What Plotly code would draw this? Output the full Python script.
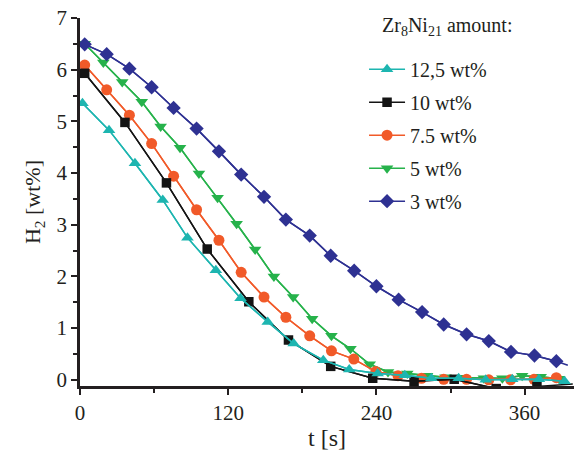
import plotly.graph_objects as go

# ---- data (t in s, H2 in wt%) ----
t_125 = [2, 23.5, 44.5, 67, 87, 110, 130, 152, 173, 197, 218, 241, 263, 284.5, 306.6, 328.5, 350, 371.6, 392.4]
h_125 = [5.35, 4.83, 4.19, 3.48, 2.75, 2.12, 1.58, 1.12, 0.70, 0.38, 0.20, 0.12, 0.09, 0.03, 0.03, 0.0, 0.01, 0.01, -0.03]

t_10 = [3.8, 36.4, 70, 103, 136.7, 168.8, 203, 237, 270.5, 303, 337, 370, 399]
h_10 = [5.93, 4.98, 3.81, 2.53, 1.51, 0.77, 0.26, 0.03, -0.03, 0.01, -0.17, -0.13, -0.08]

t_75 = [3.8, 21.6, 40, 58, 75.8, 94.4, 112.5, 130.5, 149, 166.7, 186, 203.6, 221.7, 239.5, 257.5, 276.5, 294.5, 313, 331, 348.7, 367.6, 385.7]
h_75 = [6.09, 5.61, 5.12, 4.57, 3.94, 3.29, 2.70, 2.08, 1.60, 1.21, 0.85, 0.56, 0.40, 0.16, 0.08, 0.03, 0.01, 0.01, 0.0, 0.0, 0.01, 0.04]

t_5 = [3.8, 18.9, 34.2, 50, 65.3, 81, 96.3, 111.4, 126.8, 141.8, 157, 172.6, 188, 203.6, 219, 234.6, 249.4, 265, 281, 296, 311, 327, 342, 358, 373, 388]
h_5 = [6.50, 6.14, 5.76, 5.38, 4.90, 4.49, 3.99, 3.52, 3.02, 2.52, 2.00, 1.60, 1.18, 0.85, 0.60, 0.30, 0.15, 0.12, 0.08, 0.05, 0.04, 0.03, 0.03, 0.08, 0.06, 0.02]

t_3 = [3.8, 21.6, 40, 58, 75.8, 94.4, 112.5, 130.5, 149, 166.7, 186, 203, 222, 240, 258, 277, 294.5, 313, 331, 349, 368, 385.7, 395]
h_3 = [6.49, 6.30, 6.02, 5.66, 5.26, 4.86, 4.42, 3.97, 3.54, 3.10, 2.79, 2.40, 2.11, 1.81, 1.55, 1.31, 1.07, 0.88, 0.75, 0.54, 0.47, 0.36, 0.28]

x_ticks = [0, 120, 240, 360]
y_ticks = [0, 1, 2, 3, 4, 5, 6, 7]
legend_title = "Zr<sub>8</sub>Ni<sub>21</sub> amount:"

series = [
    # name, t, h, color, symbol, markers-on-points count (None = all), rank
    ("12,5 wt%", t_125, h_125, "#1db5b0", "triangle-up", None, 1),
    ("10 wt%", t_10, h_10, "#141414", "square", 12, 2),
    ("7.5 wt%", t_75, h_75, "#f15a29", "circle", None, 3),
    ("5 wt%", t_5, h_5, "#26b24b", "triangle-down", None, 4),
    ("3 wt%", t_3, h_3, "#2e3192", "diamond", 22, 5),
]
draw_order = ["5 wt%", "7.5 wt%", "10 wt%", "12,5 wt%", "3 wt%"]

fig = go.Figure()
by_name = {s[0]: s for s in series}
for nm in draw_order:
    name, t, h, color, sym, nmark, rank = by_name[nm]
    n = len(t) if nmark is None else nmark
    fig.add_trace(go.Scatter(x=t, y=h, mode="lines", line=dict(color=color, width=1.5),
                             showlegend=False, hoverinfo="skip", legendgroup=name))
    fig.add_trace(go.Scatter(x=t[:n], y=h[:n], mode="lines+markers", name=name,
                             line=dict(color=color, width=1.5),
                             marker=dict(symbol=sym, size=11 if sym != "square" else 9.5, color=color,
                                         line=dict(width=0)),
                             legendgroup=name, legendrank=rank))

font_family = "Liberation Serif"
txt = "#231f20"
fig.update_layout(
    width=580, height=454,
    margin=dict(l=80, r=6, t=16, b=67),
    paper_bgcolor="white", plot_bgcolor="white",
    font=dict(family=font_family, size=20, color=txt),
    showlegend=True,
    legend=dict(
        x=0.575, y=0.914, xanchor="left", yanchor="top",
        bgcolor="rgba(0,0,0,0)", borderwidth=0,
        font=dict(family=font_family, size=20, color=txt),
        tracegroupgap=4,
        itemwidth=36,
    ),
    annotations=[dict(
        text=legend_title, xref="paper", yref="paper", x=0.607, y=0.976,
        xanchor="left", yanchor="middle", showarrow=False,
        font=dict(family=font_family, size=20, color=txt),
    )],
    xaxis=dict(
        range=[0, 400], tickvals=x_ticks, ticktext=[str(v) for v in x_ticks],
        showgrid=False, zeroline=False,
        showline=True, linecolor=txt, linewidth=2.5,
        ticks="outside", ticklen=6, tickwidth=2, tickcolor=txt,
        minor=dict(tickvals=[60, 180, 300], ticks="outside", ticklen=4, tickwidth=2, tickcolor=txt),
        title=dict(text="t [s]", font=dict(family=font_family, size=24), standoff=6),
        tickfont=dict(family=font_family, size=21),
    ),
    yaxis=dict(
        range=[-0.12, 7], tickvals=y_ticks, ticktext=[str(v) for v in y_ticks],
        showgrid=False, zeroline=False,
        showline=True, linecolor=txt, linewidth=2.5,
        ticks="outside", ticklen=6, tickwidth=2, tickcolor=txt,
        minor=dict(tickvals=[0.5, 1.5, 2.5, 3.5, 4.5, 5.5, 6.5], ticks="outside", ticklen=4,
                   tickwidth=2, tickcolor=txt),
        title=dict(text="H<sub>2</sub> [wt%]", font=dict(family=font_family, size=22), standoff=10),
        tickfont=dict(family=font_family, size=21),
    ),
)

fig.write_html("out.html")
